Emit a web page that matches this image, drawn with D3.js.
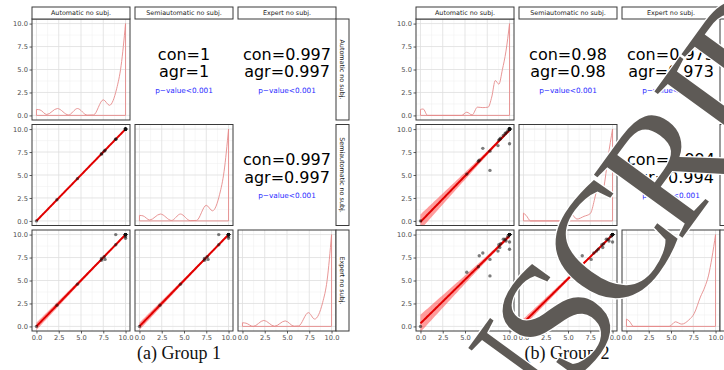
<!DOCTYPE html>
<html>
<head>
<meta charset="utf-8">
<script src="https://cdn.jsdelivr.net/npm/d3@7"></script>
<style>
  body { margin: 0; background: #fff; }
  svg { display: block; }
</style>
</head>
<body>
<svg id="chart" width="724" height="370"></svg>
<script>
const varNames = ["Automatic no subj.", "Semiautomatic no subj.", "Expert no subj."];
const tickValues = [0, 2.5, 5, 7.5, 10];
const minorValues = [1.25, 3.75, 6.25, 8.75];
const captions = ["(a) Group 1", "(b) Group 2"];
const pText = "p\u2212value<0.001";

// group 1 scores, one entry per subject
const g1Auto   = [0, 2.3, 4.6, 7.3, 7.3, 7.7, 7.6, 8.9, 8.9, 10, 10, 10, 10, 10, 10, 10, 10, 10, 10, 10, 10, 10];
const g1Semi   = [0, 2.3, 4.6, 7.3, 7.3, 7.7, 7.6, 8.9, 8.9, 10, 10, 10, 10, 10, 10, 10, 10, 10, 10, 10, 10, 10];
const g1Expert = [0, 2.3, 4.6, 7.2, 7.4, 7.3, 7.6, 10, 8.9, 9.6, 9.8, 10, 10, 10, 10, 10, 10, 10, 10, 10, 10, 10];

// group 2 scores
const g2Auto   = [0, 5.2, 6.6, 7.0, 7.8, 7.8, 8.7, 8.9, 8.8, 9.3, 9.6, 10, 10, 9.0, 9.5, 9.8, 6.5,
                  10, 10, 10, 10, 10, 10, 10, 10, 10, 10, 10, 10, 10, 10, 10, 10, 10, 10];
const g2Semi   = [0, 5.1, 6.6, 7.9, 7.6, 5.5, 8.2, 8.9, 8.8, 9.3, 9.6, 10, 8.4, 9.0, 9.5, 9.8, 6.5,
                  10, 10, 10, 10, 10, 10, 10, 10, 10, 10, 10, 10, 10, 10, 10, 10, 10, 10];
const g2Expert = [0, 5.9, 7.7, 8.0, 7.3, 5.5, 8.2, 8.6, 8.9, 9.5, 9.3, 9.2, 8.4, 9.0, 9.5, 9.8, 6.5,
                  10, 10, 10, 10, 10, 10, 10, 10, 10, 10, 10, 10, 10, 10, 10, 10, 10, 10];

// concordance / agreement, pairs (auto,semi) (auto,expert) (semi,expert)
const g1Con = ["1", "0.997", "0.997"];
const g1Agr = ["1", "0.997", "0.997"];
const g2Con = ["0.98", "0.973", "0.994"];
const g2Agr = ["0.98", "0.973", "0.994"];

// density curves
const g1AutoDensX   = [0, 0.4, 1.15, 2.35, 3.6, 4.6, 5.7, 6.4, 7.5, 8.2, 9.0, 9.5, 10];
const g1AutoDensY   = [0.65, 0.6, 0.1, 0.75, 0.05, 0.75, 0.03, 0.05, 1.7, 1.1, 2.9, 5.4, 10];
const g1SemiDensX   = [0, 0.4, 1.15, 2.35, 3.6, 4.6, 5.7, 6.4, 7.5, 8.2, 9.0, 9.5, 10];
const g1SemiDensY   = [0.6, 0.55, 0.1, 0.75, 0.05, 0.75, 0.03, 0.05, 1.7, 1.1, 2.9, 5.4, 10];
const g1ExpertDensX = [0, 0.4, 1.2, 2.4, 3.6, 4.8, 5.8, 6.3, 7.4, 8.1, 9.0, 9.5, 10];
const g1ExpertDensY = [0.4, 0.35, 0, 0.65, 0.02, 0.6, 0.02, 0.05, 1.5, 0.8, 2.6, 5.0, 10];
const g2AutoDensX   = [0, 0.3, 0.8, 4.6, 5.2, 5.8, 6.4, 7.0, 7.6, 8.0, 8.4, 8.8, 9.2, 9.6, 10];
const g2AutoDensY   = [0.65, 0.7, 0, 0, 0.35, 0.05, 0.9, 0.85, 0.9, 2.0, 3.8, 3.4, 5.0, 7.0, 10];
const g2SemiDensX   = [0, 0.3, 0.8, 4.5, 5.4, 6.0, 6.8, 7.5, 8.4, 8.7, 9.0, 9.5, 10];
const g2SemiDensY   = [0.85, 0.6, 0, 0, 0.7, 0.2, 0.5, 0.8, 3.5, 3.0, 3.6, 7.0, 10];
const g2ExpertDensX = [0, 0.3, 0.8, 4.8, 5.5, 6.2, 7.0, 7.6, 8.3, 8.8, 9.2, 9.6, 10];
const g2ExpertDensY = [0.8, 0.6, 0, 0, 0.5, 0.25, 0.7, 1.4, 3.2, 4.3, 5.5, 7.5, 10];

// visible part of the watermark and the letters' advance widths (em)
const wmLetters = ["U", "S", "C", "R", "I", "P", "T"];
const wmWidths  = [0.722, 0.556, 0.667, 0.667, 0.333, 0.556, 0.611];

const groups = [
    { left: 32, capX: 179, rightLabels: true, vars: [g1Auto, g1Semi, g1Expert], con: g1Con, agr: g1Agr, caption: captions[0],
      dens: [[g1AutoDensX, g1AutoDensY], [g1SemiDensX, g1SemiDensY], [g1ExpertDensX, g1ExpertDensY]] },
    { left: 416, capX: 567, rightLabels: false, vars: [g2Auto, g2Semi, g2Expert], con: g2Con, agr: g2Agr, caption: captions[1],
      dens: [[g2AutoDensX, g2AutoDensY], [g2SemiDensX, g2SemiDensY], [g2ExpertDensX, g2ExpertDensY]] }
];

const svg = d3.select("#chart");
svg.append("rect").attr("width", 724).attr("height", 370).attr("fill", "#fff");

const pw = 98, ph = 101, gap = 5;
const rowTop = [19, 124.5, 230];
const stripTop = 7, stripH = 12, stripW = 13;
const border = "#3a3a3a";
const sans = "'DejaVu Sans', sans-serif";
const serif = "'Liberation Serif', serif";

function fit(xs, ys) {
    const n = xs.length, mx = d3.mean(xs), my = d3.mean(ys);
    let sxx = 0, sxy = 0;
    xs.forEach((x, i) => { sxx += (x - mx) ** 2; sxy += (x - mx) * (ys[i] - my); });
    const b = sxy / sxx, a = my - b * mx;
    const ss = d3.sum(xs, (x, i) => (ys[i] - a - b * x) ** 2);
    const s = Math.sqrt(ss / (n - 2));
    return { f: x => a + b * x, se: x => s * Math.sqrt(1 / n + (x - mx) ** 2 / sxx) };
}

let clipId = 0;

groups.forEach(grp => {
    const g = svg.append("g");

    for (let i = 0; i < 3; i++) {
        for (let j = 0; j < 3; j++) {
            const px = grp.left + j * (pw + gap), py = rowTop[i];
            const x = d3.scaleLinear().domain([-0.5, 10.5]).range([px, px + pw]);
            const y = d3.scaleLinear().domain([-0.5, 10.5]).range([py + ph, py]);

            if (i < j) {
                const k = i === 0 ? j - 1 : 2;
                const cx = px + pw / 2, cy = py + ph / 2;
                g.append("text").attr("x", cx).attr("y", cy - 10).attr("text-anchor", "middle")
                    .style("font-family", sans).attr("font-size", 16).attr("fill", "#000").text("con=" + grp.con[k]);
                g.append("text").attr("x", cx).attr("y", cy + 7.5).attr("text-anchor", "middle")
                    .style("font-family", sans).attr("font-size", 16).attr("fill", "#000").text("agr=" + grp.agr[k]);
                g.append("text").attr("x", cx).attr("y", cy + 23).attr("text-anchor", "middle")
                    .style("font-family", sans).attr("font-size", 7.3).attr("fill", "#2b2bff").text(pText);
                continue;
            }

            const id = "clip" + (clipId++);
            svg.append("clipPath").attr("id", id)
                .append("rect").attr("x", px).attr("y", py).attr("width", pw).attr("height", ph);

            const panel = g.append("g");
            panel.append("rect").attr("x", px).attr("y", py).attr("width", pw).attr("height", ph).attr("fill", "#fff");

            // grid
            panel.selectAll(null).data(minorValues).enter().append("line")
                .attr("x1", d => x(d)).attr("x2", d => x(d)).attr("y1", py).attr("y2", py + ph)
                .attr("stroke", "#eeeeee").attr("stroke-width", 0.5);
            panel.selectAll(null).data(minorValues).enter().append("line")
                .attr("y1", d => y(d)).attr("y2", d => y(d)).attr("x1", px).attr("x2", px + pw)
                .attr("stroke", "#eeeeee").attr("stroke-width", 0.5);
            panel.selectAll(null).data(tickValues).enter().append("line")
                .attr("x1", d => x(d)).attr("x2", d => x(d)).attr("y1", py).attr("y2", py + ph)
                .attr("stroke", "#dedede").attr("stroke-width", 0.8);
            panel.selectAll(null).data(tickValues).enter().append("line")
                .attr("y1", d => y(d)).attr("y2", d => y(d)).attr("x1", px).attr("x2", px + pw)
                .attr("stroke", "#dedede").attr("stroke-width", 0.8);

            const inner = panel.append("g").attr("clip-path", `url(#${id})`);

            if (i === j) {
                const [dx, dy] = grp.dens[i];
                const pts = dx.map((v, k) => [v, dy[k]]);
                const line = d3.line().x(d => x(d[0])).y(d => y(d[1])).curve(d3.curveMonotoneX);
                inner.append("path").attr("d", line(pts))
                    .attr("fill", "none").attr("stroke", "#e58a8a").attr("stroke-width", 0.9);
                inner.append("path")
                    .attr("d", d3.line()([[x(dx[0]), y(dy[0])], [x(dx[0]), y(0)], [x(10), y(0)], [x(10), y(dy[dy.length - 1])]]))
                    .attr("fill", "none").attr("stroke", "#e58a8a").attr("stroke-width", 0.9);
            } else {
                const xs = grp.vars[j], ys = grp.vars[i];
                const m = fit(xs, ys);
                const [lo, hi] = d3.extent(xs);
                const grid = d3.range(81).map(k => lo + (hi - lo) * k / 80);
                const area = d3.area().x(d => x(d)).y0(d => y(m.f(d) - 2.03 * m.se(d))).y1(d => y(m.f(d) + 2.03 * m.se(d)));
                inner.append("path").attr("d", area(grid)).attr("fill", "#ff3a3a").attr("opacity", 0.5);
                inner.append("path").attr("d", d3.line().x(d => x(d)).y(d => y(m.f(d)))(grid))
                    .attr("fill", "none").attr("stroke", "#e00000").attr("stroke-width", 2);
                inner.selectAll("circle").data(xs.map((v, k) => [v, ys[k]])).enter().append("circle")
                    .attr("cx", d => x(d[0])).attr("cy", d => y(d[1])).attr("r", 1.7)
                    .attr("fill", "#111").attr("opacity", 0.55);
            }

            panel.append("rect").attr("x", px).attr("y", py).attr("width", pw).attr("height", ph)
                .attr("fill", "none").attr("stroke", border).attr("stroke-width", 1);

            // axes
            if (j === 0) {
                const ax = g.append("g").attr("transform", `translate(${px},0)`)
                    .call(d3.axisLeft(y).tickValues(tickValues).tickFormat(d3.format(".1f")).tickSize(2.5).tickPadding(1.5));
                ax.select(".domain").remove();
            }
            if (i === 2) {
                const ax = g.append("g").attr("transform", `translate(0,${py + ph})`)
                    .call(d3.axisBottom(x).tickValues(tickValues).tickFormat(d3.format(".1f")).tickSize(2.5).tickPadding(1.5));
                ax.select(".domain").remove();
            }
        }
    }

    g.selectAll(".tick line").attr("stroke", "#333").attr("stroke-width", 0.8);
    g.selectAll(".tick text").attr("fill", "#4d4d4d").attr("font-size", 6.7).style("font-family", sans);

    // strips
    varNames.forEach((name, j) => {
        const px = grp.left + j * (pw + gap);
        g.append("rect").attr("x", px).attr("y", stripTop).attr("width", pw).attr("height", stripH)
            .attr("fill", "#fff").attr("stroke", border).attr("stroke-width", 1);
        g.append("text").attr("x", px + pw / 2).attr("y", stripTop + stripH / 2 + 2.3)
            .attr("text-anchor", "middle").style("font-family", sans).attr("font-size", 6.4).attr("fill", "#1a1a1a").text(name);
    });
    varNames.forEach((name, i) => {
        const sx = grp.left + 3 * pw + 2 * gap, py = rowTop[i];
        g.append("rect").attr("x", sx).attr("y", py).attr("width", stripW).attr("height", ph)
            .attr("fill", "#fff").attr("stroke", border).attr("stroke-width", 1);
        if (grp.rightLabels) {
            g.append("text").attr("transform", `translate(${sx + stripW / 2 - 2.3},${py + ph / 2}) rotate(90)`)
                .attr("text-anchor", "middle").style("font-family", sans).attr("font-size", 6.4).attr("fill", "#1a1a1a").text(name);
        }
    });

    g.append("text").attr("x", grp.capX).attr("y", 359).attr("text-anchor", "middle")
        .style("font-family", serif).attr("font-size", 18).attr("fill", "#111")
        .text(grp.caption);
});

// diagonal watermark, each letter placed along the slant line, anchored on the "S"
const wmSize = 166, wmStep = 148, wmAngle = -54, wmAnchor = [555, 318], sIndex = 1;
const dir = [Math.cos(wmAngle * Math.PI / 180), Math.sin(wmAngle * Math.PI / 180)];
const centres = [];
let acc = 0;
wmWidths.forEach(w => { centres.push(acc + w / 2); acc += w; });
const wm = svg.append("g");
wmLetters.forEach((ch, k) => {
    const off = (centres[k] - centres[sIndex]) * wmStep;
    const cx = wmAnchor[0] + off * dir[0], cy = wmAnchor[1] + off * dir[1];
    wm.append("text")
        .attr("transform", `translate(${cx},${cy}) rotate(${wmAngle})`)
        .attr("text-anchor", "middle")
        .attr("dominant-baseline", "central")
        .style("font-family", serif)
        .attr("font-size", wmSize)
        .attr("fill", "#5e5a56")
        .attr("stroke", "#fff")
        .attr("stroke-width", 2.5)
        .attr("paint-order", "stroke")
        .text(ch);
});
</script>
</body>
</html>
